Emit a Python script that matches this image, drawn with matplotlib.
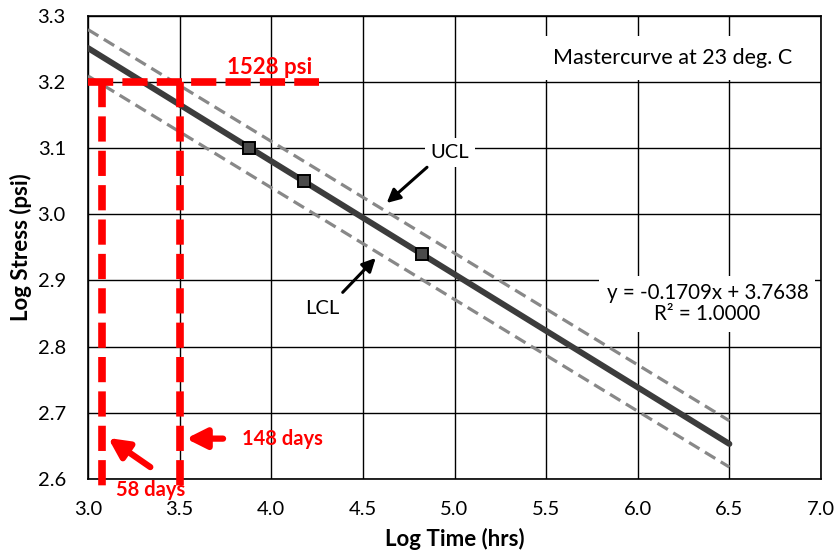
import matplotlib
matplotlib.use("Agg")
import matplotlib.pyplot as plt
import numpy as np

# ---- data ----
fit_x = [3.0, 6.5]
fit_y = [3.2511, 2.6530]
ucl_y = [3.279, 2.688]
lcl_y = [3.209, 2.618]
pts_x = [3.88, 4.18, 4.82]
pts_y = [3.100, 3.050, 2.940]
stress_level = 3.2
stress_x_end = 4.26
life_x = [3.075, 3.5]
life_bottom = 2.588
x_ticks = [3.0, 3.5, 4.0, 4.5, 5.0, 5.5, 6.0, 6.5, 7.0]
y_ticks = [2.6, 2.7, 2.8, 2.9, 3.0, 3.1, 3.2, 3.3]

plt.rcParams['font.family'] = ['Lato', 'DejaVu Sans']

fig = plt.figure(figsize=(8.38, 5.56), dpi=100)
ax = fig.add_axes([88/838, 1-479/556, (821-88)/838, (479-15.7)/556])
ax.set_xlim(3.0, 7.0)
ax.set_ylim(2.6, 3.3)
ax.set_xticks(x_ticks)
ax.set_yticks(y_ticks)
ax.set_xticklabels([f"{v:.1f}" for v in x_ticks])
ax.set_yticklabels([f"{v:.1f}" for v in y_ticks])
ax.tick_params(length=0, labelsize=14.5, pad=16)
ax.grid(True, color='black', lw=1.0)
ax.set_axisbelow(True)
for s in ax.spines.values():
    s.set_color('black'); s.set_linewidth(1.2)

ax.set_xlabel("Log Time (hrs)", fontsize=16, fontweight='bold', labelpad=7)
ax.set_ylabel("Log Stress (psi)", fontsize=16, fontweight='bold', labelpad=4)

# confidence limits
ax.plot(fit_x, ucl_y, color='#888888', lw=2.3, dashes=(3.8, 2.0), zorder=3)
ax.plot(fit_x, lcl_y, color='#888888', lw=2.3, dashes=(3.8, 2.0), zorder=3)
# fit line
ax.plot(fit_x, fit_y, color='#3c3c3c', lw=4.3, solid_capstyle='round', zorder=4)
# data points
ax.plot(pts_x, pts_y, ls='none', marker='s', ms=8, mfc='#4a4a4a', mec='black', mew=1.4, zorder=5)

# red guide lines
red = '#ff0000'
ax.plot([3.0, stress_x_end], [stress_level, stress_level], color=red, lw=5.5,
        dashes=(3.3, 1.2), zorder=6, solid_capstyle='butt')
for lx in life_x:
    ax.plot([lx, lx], [stress_level, life_bottom], color=red, lw=5.5, dashes=(3.3, 1.2),
            zorder=6, clip_on=False)

ax.text(3.99, 3.221, "1528 psi", color=red, fontsize=16, fontweight='bold',
        ha='center', va='center', zorder=7)
ax.text(4.06, 2.66, "148 days", color=red, fontsize=14.5, fontweight='bold',
        ha='center', va='center', zorder=7)
ax.text(3.34, 2.583, "58 days", color=red, fontsize=14.5, fontweight='bold',
        ha='center', va='center', zorder=7, clip_on=False)

ax.annotate("", xy=(3.535, 2.661), xytext=(3.737, 2.661),
            arrowprops=dict(arrowstyle='-|>,head_length=1.2,head_width=0.6', color=red,
                            lw=4.5, shrinkA=0, shrinkB=0), zorder=7)
ax.annotate("", xy=(3.11, 2.662), xytext=(3.34, 2.618),
            arrowprops=dict(arrowstyle='-|>,head_length=1.2,head_width=0.6', color=red,
                            lw=4.5, shrinkA=0, shrinkB=0), zorder=7, annotation_clip=False)

# UCL / LCL labels
ax.text(4.975, 3.094, "UCL", fontsize=14.5, ha='center', va='center', zorder=6,
        bbox=dict(boxstyle='square,pad=0.3', fc='white', ec='none'))
ax.text(4.28, 2.858, "LCL", fontsize=14.5, ha='center', va='center', zorder=6,
        bbox=dict(boxstyle='square,pad=0.3', fc='white', ec='none'))
ax.annotate("", xy=(4.63, 3.017), xytext=(4.85, 3.071),
            arrowprops=dict(arrowstyle='-|>,head_length=0.8,head_width=0.4', color='black',
                            lw=2.2, shrinkA=0, shrinkB=0), zorder=6)
ax.annotate("", xy=(4.57, 2.934), xytext=(4.39, 2.882),
            arrowprops=dict(arrowstyle='-|>,head_length=0.8,head_width=0.4', color='black',
                            lw=2.2, shrinkA=0, shrinkB=0), zorder=6)

ax.text(6.19, 3.236, "Mastercurve at 23 deg. C", fontsize=15.5, ha='center', va='center',
        zorder=6, bbox=dict(boxstyle='square,pad=0.55', fc='white', ec='none'))
ax.text(6.38, 2.865, "y = -0.1709x + 3.7638\nR² = 1.0000", fontsize=14.8, ha='center',
        va='center', linespacing=1.1, zorder=6,
        bbox=dict(boxstyle='square,pad=0.35', fc='white', ec='none'))

fig.savefig("out.png", dpi=100)
